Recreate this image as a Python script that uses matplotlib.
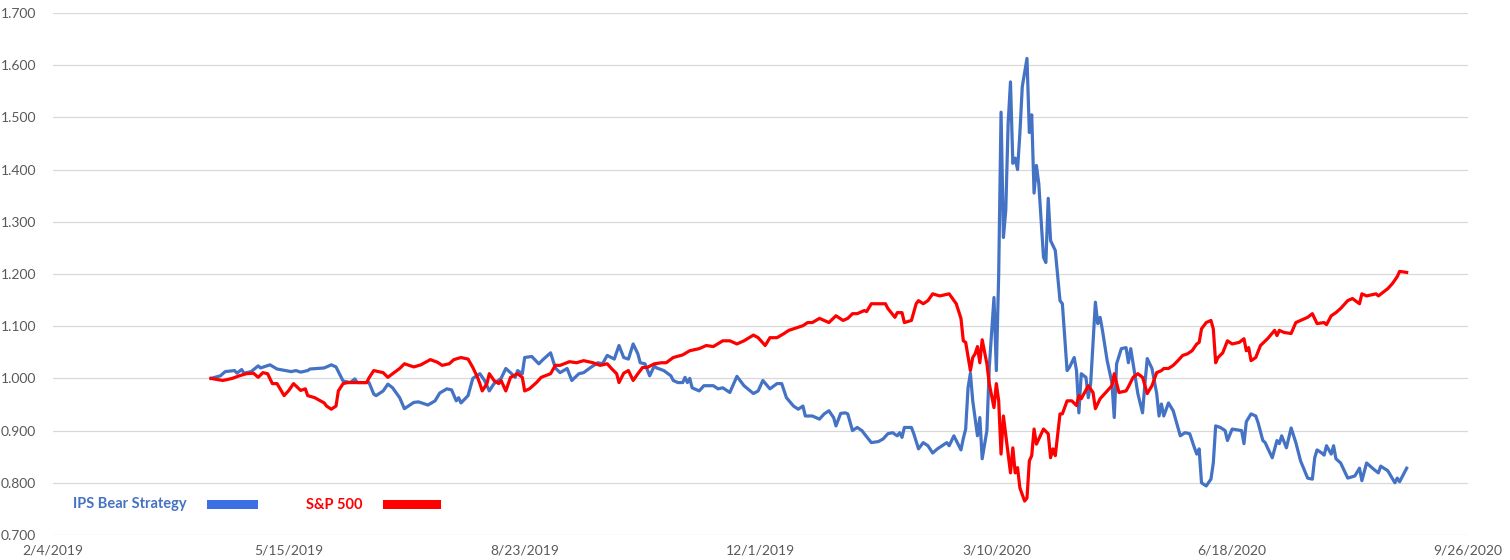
import pandas as pd
import matplotlib.pyplot as plt
import matplotlib.ticker as mticker
from matplotlib.patches import Rectangle

plt.rcParams['font.family'] = ['Lato', 'DejaVu Sans']

# IPS Bear Strategy (growth of 1.000)
ips_dates = [
    '2019-04-12', '2019-04-16', '2019-04-18', '2019-04-22', '2019-04-23', '2019-04-25', '2019-04-26', '2019-04-29',
    '2019-05-02', '2019-05-03', '2019-05-07', '2019-05-10', '2019-05-16', '2019-05-18', '2019-05-20', '2019-05-23',
    '2019-05-24', '2019-05-30',
    '2019-06-02', '2019-06-04', '2019-06-07', '2019-06-10', '2019-06-12', '2019-06-13', '2019-06-18', '2019-06-20',
    '2019-06-21', '2019-06-24', '2019-06-26', '2019-06-28',
    '2019-07-01', '2019-07-03', '2019-07-07', '2019-07-09', '2019-07-13', '2019-07-16', '2019-07-18', '2019-07-21',
    '2019-07-23', '2019-07-25', '2019-07-26', '2019-07-27', '2019-07-30',
    '2019-08-01', '2019-08-04', '2019-08-06', '2019-08-08', '2019-08-10', '2019-08-13', '2019-08-15', '2019-08-17',
    '2019-08-19', '2019-08-20', '2019-08-22', '2019-08-23', '2019-08-26', '2019-08-29', '2019-08-31',
    '2019-09-03', '2019-09-05', '2019-09-07', '2019-09-10', '2019-09-12', '2019-09-15', '2019-09-17', '2019-09-20',
    '2019-09-23', '2019-09-25', '2019-09-27', '2019-09-30',
    '2019-10-02', '2019-10-04', '2019-10-06', '2019-10-08', '2019-10-10', '2019-10-11', '2019-10-13', '2019-10-15',
    '2019-10-17', '2019-10-18', '2019-10-21', '2019-10-24', '2019-10-25', '2019-10-27', '2019-10-29', '2019-10-30',
    '2019-10-31',
    '2019-11-01', '2019-11-02', '2019-11-05', '2019-11-07', '2019-11-11', '2019-11-13', '2019-11-15', '2019-11-18',
    '2019-11-21', '2019-11-24', '2019-11-28', '2019-11-30',
    '2019-12-02', '2019-12-05', '2019-12-08', '2019-12-10', '2019-12-12', '2019-12-15', '2019-12-17', '2019-12-19',
    '2019-12-20', '2019-12-23', '2019-12-26', '2019-12-28', '2019-12-30',
    '2020-01-01', '2020-01-02', '2020-01-04', '2020-01-06', '2020-01-07', '2020-01-09', '2020-01-11', '2020-01-13',
    '2020-01-14', '2020-01-17', '2020-01-20', '2020-01-22', '2020-01-24', '2020-01-26', '2020-01-28', '2020-01-29',
    '2020-01-30', '2020-01-31',
    '2020-02-03', '2020-02-04', '2020-02-06', '2020-02-08', '2020-02-10', '2020-02-12', '2020-02-14', '2020-02-16',
    '2020-02-18', '2020-02-19', '2020-02-21', '2020-02-22', '2020-02-24', '2020-02-25', '2020-02-26', '2020-02-27',
    '2020-02-28', '2020-02-29',
    '2020-03-02', '2020-03-03', '2020-03-04', '2020-03-06', '2020-03-07', '2020-03-09', '2020-03-10', '2020-03-11',
    '2020-03-12', '2020-03-13', '2020-03-14', '2020-03-15', '2020-03-16', '2020-03-17', '2020-03-18', '2020-03-19',
    '2020-03-20', '2020-03-21', '2020-03-23', '2020-03-24', '2020-03-25', '2020-03-26', '2020-03-27', '2020-03-28',
    '2020-03-30', '2020-03-31',
    '2020-04-01', '2020-04-02', '2020-04-04', '2020-04-06', '2020-04-07', '2020-04-09', '2020-04-10', '2020-04-12',
    '2020-04-13', '2020-04-14', '2020-04-15', '2020-04-17', '2020-04-18', '2020-04-19', '2020-04-21', '2020-04-22',
    '2020-04-23', '2020-04-24', '2020-04-26', '2020-04-28', '2020-04-29', '2020-04-30',
    '2020-05-02', '2020-05-04', '2020-05-05', '2020-05-06', '2020-05-07', '2020-05-09', '2020-05-11', '2020-05-12',
    '2020-05-13', '2020-05-15', '2020-05-17', '2020-05-18', '2020-05-19', '2020-05-20', '2020-05-22', '2020-05-24',
    '2020-05-26', '2020-05-27', '2020-05-29', '2020-05-31',
    '2020-06-02', '2020-06-03', '2020-06-04', '2020-06-05', '2020-06-07', '2020-06-09', '2020-06-10', '2020-06-11',
    '2020-06-13', '2020-06-15', '2020-06-16', '2020-06-18', '2020-06-22', '2020-06-23', '2020-06-24', '2020-06-26',
    '2020-06-28', '2020-06-29',
    '2020-07-01', '2020-07-02', '2020-07-03', '2020-07-05', '2020-07-07', '2020-07-08', '2020-07-09', '2020-07-11',
    '2020-07-13', '2020-07-15', '2020-07-17', '2020-07-20', '2020-07-22', '2020-07-23', '2020-07-24', '2020-07-26',
    '2020-07-27', '2020-07-28', '2020-07-30', '2020-07-31',
    '2020-08-01', '2020-08-03', '2020-08-06', '2020-08-09', '2020-08-11', '2020-08-12', '2020-08-14', '2020-08-17',
    '2020-08-19', '2020-08-20', '2020-08-23', '2020-08-26', '2020-08-27', '2020-08-28', '2020-08-31',
]
ips_values = [
    1.000, 1.005, 1.013, 1.015, 1.010, 1.017, 1.010, 1.013,
    1.024, 1.020, 1.026, 1.018, 1.013, 1.015, 1.012, 1.015,
    1.018, 1.020,
    1.026, 1.022, 0.995, 0.992, 0.999, 0.992, 0.992, 0.970,
    0.967, 0.976, 0.989, 0.982,
    0.963, 0.942, 0.954, 0.955, 0.949, 0.957, 0.972, 0.980,
    0.978, 0.957, 0.963, 0.953, 0.967,
    1.000, 1.009, 0.996, 0.976, 0.990, 1.000, 1.019, 1.011,
    1.002, 1.015, 1.009, 1.040, 1.042, 1.028, 1.037,
    1.049, 1.020, 1.011, 1.019, 0.996, 1.009, 1.011, 1.021,
    1.030, 1.028, 1.044, 1.037,
    1.063, 1.040, 1.037, 1.066, 1.047, 1.030, 1.028, 1.005,
    1.024, 1.020, 1.015, 1.005, 0.996, 0.992, 0.992, 1.002,
    0.992,
    1.000, 0.982, 0.976, 0.986, 0.986, 0.980, 0.982, 0.973,
    1.004, 0.986, 0.971, 0.976,
    0.996, 0.980, 0.990, 0.990, 0.963, 0.947, 0.941, 0.947,
    0.928, 0.928, 0.922, 0.932, 0.938,
    0.925, 0.909, 0.933, 0.934, 0.932, 0.900, 0.906, 0.900,
    0.894, 0.877, 0.879, 0.884, 0.894, 0.896, 0.890, 0.896,
    0.887, 0.906,
    0.906, 0.894, 0.865, 0.877, 0.871, 0.857, 0.865, 0.871,
    0.877, 0.871, 0.890, 0.881, 0.863, 0.885, 0.903, 0.982,
    1.010, 0.957,
    0.890, 0.925, 0.846, 0.900, 1.021, 1.155, 1.015, 1.200,
    1.510, 1.270, 1.322, 1.488, 1.568, 1.412, 1.422, 1.400,
    1.471, 1.559, 1.613, 1.471, 1.505, 1.355, 1.408, 1.373,
    1.232, 1.222,
    1.345, 1.264, 1.245, 1.149, 1.143, 1.015, 1.021, 1.040,
    1.015, 0.934, 1.009, 1.002, 0.963, 0.990, 1.146, 1.105,
    1.117, 1.092, 1.034, 0.992, 0.925, 1.028,
    1.057, 1.059, 1.030, 1.057, 1.028, 0.971, 0.934, 0.990,
    1.038, 1.019, 0.971, 0.928, 0.951, 0.928, 0.953, 0.938,
    0.906, 0.890, 0.896, 0.894,
    0.867, 0.855, 0.865, 0.800, 0.794, 0.807, 0.838, 0.909,
    0.906, 0.900, 0.881, 0.903, 0.900, 0.875, 0.917, 0.932,
    0.928, 0.915,
    0.881, 0.877, 0.867, 0.848, 0.881, 0.875, 0.890, 0.867,
    0.905, 0.877, 0.842, 0.809, 0.807, 0.848, 0.863, 0.857,
    0.853, 0.871, 0.855, 0.871,
    0.846, 0.838, 0.809, 0.813, 0.828, 0.804, 0.838, 0.826,
    0.819, 0.832, 0.823, 0.800, 0.809, 0.802, 0.828,
]

# S&P 500 (growth of 1.000)
spx_dates = [
    '2019-04-12', '2019-04-17', '2019-04-21', '2019-04-24', '2019-04-27', '2019-04-30',
    '2019-05-02', '2019-05-04', '2019-05-06', '2019-05-08', '2019-05-10', '2019-05-13', '2019-05-15', '2019-05-17',
    '2019-05-20', '2019-05-22', '2019-05-23', '2019-05-26', '2019-05-30', '2019-05-31',
    '2019-06-02', '2019-06-04', '2019-06-05', '2019-06-07', '2019-06-09', '2019-06-13', '2019-06-17', '2019-06-18',
    '2019-06-20', '2019-06-24', '2019-06-26', '2019-06-28',
    '2019-07-01', '2019-07-03', '2019-07-07', '2019-07-10', '2019-07-14', '2019-07-17', '2019-07-19', '2019-07-22',
    '2019-07-24', '2019-07-27', '2019-07-30',
    '2019-08-01', '2019-08-03', '2019-08-04', '2019-08-05', '2019-08-07', '2019-08-08', '2019-08-10', '2019-08-12',
    '2019-08-13', '2019-08-15', '2019-08-17', '2019-08-20', '2019-08-22', '2019-08-23', '2019-08-25', '2019-08-28',
    '2019-08-30',
    '2019-09-03', '2019-09-05', '2019-09-07', '2019-09-11', '2019-09-14', '2019-09-17', '2019-09-21', '2019-09-24',
    '2019-09-27', '2019-09-29',
    '2019-10-01', '2019-10-02', '2019-10-04', '2019-10-06', '2019-10-08', '2019-10-10', '2019-10-12', '2019-10-14',
    '2019-10-17', '2019-10-20', '2019-10-22', '2019-10-25', '2019-10-29',
    '2019-11-01', '2019-11-05', '2019-11-08', '2019-11-11', '2019-11-15', '2019-11-18', '2019-11-21', '2019-11-24',
    '2019-11-28', '2019-11-30',
    '2019-12-03', '2019-12-05', '2019-12-08', '2019-12-11', '2019-12-13', '2019-12-15', '2019-12-19', '2019-12-21',
    '2019-12-23', '2019-12-26', '2019-12-30',
    '2020-01-02', '2020-01-05', '2020-01-07', '2020-01-09', '2020-01-11', '2020-01-14', '2020-01-15', '2020-01-17',
    '2020-01-20', '2020-01-23', '2020-01-24', '2020-01-27', '2020-01-28', '2020-01-30', '2020-01-31',
    '2020-02-03', '2020-02-05', '2020-02-06', '2020-02-08', '2020-02-10', '2020-02-12', '2020-02-15', '2020-02-19',
    '2020-02-22', '2020-02-24', '2020-02-25', '2020-02-26', '2020-02-28', '2020-02-29',
    '2020-03-01', '2020-03-02', '2020-03-03', '2020-03-04', '2020-03-06', '2020-03-07', '2020-03-09', '2020-03-10',
    '2020-03-11', '2020-03-12', '2020-03-13', '2020-03-15', '2020-03-16', '2020-03-17', '2020-03-18', '2020-03-19',
    '2020-03-20', '2020-03-22', '2020-03-23', '2020-03-24', '2020-03-25', '2020-03-26', '2020-03-27', '2020-03-30',
    '2020-04-01', '2020-04-02', '2020-04-03', '2020-04-04', '2020-04-06', '2020-04-07', '2020-04-09', '2020-04-11',
    '2020-04-13', '2020-04-14', '2020-04-15', '2020-04-18', '2020-04-20', '2020-04-21', '2020-04-23', '2020-04-26',
    '2020-04-28', '2020-04-29',
    '2020-05-01', '2020-05-04', '2020-05-05', '2020-05-07', '2020-05-09', '2020-05-11', '2020-05-13', '2020-05-15',
    '2020-05-17', '2020-05-19', '2020-05-20', '2020-05-22', '2020-05-24', '2020-05-26', '2020-05-28', '2020-05-30',
    '2020-06-01', '2020-06-03', '2020-06-04', '2020-06-05', '2020-06-07', '2020-06-09', '2020-06-10', '2020-06-11',
    '2020-06-12', '2020-06-14', '2020-06-16', '2020-06-18', '2020-06-21', '2020-06-23', '2020-06-24', '2020-06-25',
    '2020-06-26', '2020-06-28', '2020-06-30',
    '2020-07-03', '2020-07-06', '2020-07-07', '2020-07-08', '2020-07-10', '2020-07-13', '2020-07-15', '2020-07-17',
    '2020-07-20', '2020-07-22', '2020-07-24', '2020-07-27', '2020-07-28', '2020-07-30',
    '2020-08-01', '2020-08-03', '2020-08-06', '2020-08-08', '2020-08-11', '2020-08-12', '2020-08-14', '2020-08-18',
    '2020-08-19', '2020-08-23', '2020-08-25', '2020-08-27', '2020-08-28', '2020-08-31',
]
spx_values = [
    1.000, 0.996, 1.000, 1.005, 1.009, 1.010,
    1.002, 1.011, 1.009, 0.990, 0.990, 0.967, 0.977, 0.990,
    0.977, 0.980, 0.967, 0.963, 0.953, 0.947,
    0.941, 0.947, 0.976, 0.990, 0.992, 0.992, 0.992, 1.001,
    1.015, 1.011, 1.002, 1.009,
    1.019, 1.028, 1.022, 1.026, 1.036, 1.031, 1.025, 1.028,
    1.036, 1.040, 1.037,
    1.021, 1.002, 0.990, 0.976, 0.990, 1.009, 0.996, 0.990,
    0.996, 0.976, 1.002, 1.009, 1.002, 0.976, 0.980, 0.992,
    1.002,
    1.009, 1.025, 1.025, 1.032, 1.030, 1.034, 1.030, 1.025,
    1.028, 1.018,
    1.009, 0.992, 1.010, 1.015, 0.996, 1.009, 1.021, 1.021,
    1.028, 1.030, 1.030, 1.040, 1.045,
    1.053, 1.057, 1.063, 1.061, 1.072, 1.072, 1.066, 1.072,
    1.083, 1.078,
    1.063, 1.078, 1.078, 1.086, 1.092, 1.095, 1.101, 1.107,
    1.107, 1.115, 1.107,
    1.120, 1.111, 1.115, 1.124, 1.124, 1.130, 1.128, 1.143,
    1.143, 1.143, 1.134, 1.117, 1.126, 1.126, 1.107,
    1.111, 1.143, 1.149, 1.143, 1.149, 1.162, 1.158, 1.162,
    1.143, 1.115, 1.072, 1.069, 1.015, 1.040,
    1.047, 1.061, 1.030, 1.074, 1.028, 0.990, 0.944, 0.990,
    0.957, 0.855, 0.928, 0.855, 0.819, 0.867, 0.819, 0.829,
    0.790, 0.765, 0.771, 0.842, 0.852, 0.903, 0.874, 0.903,
    0.894, 0.848, 0.865, 0.852, 0.932, 0.932, 0.957, 0.957,
    0.948, 0.967, 0.961, 0.986, 0.973, 0.942, 0.961, 0.976,
    0.986, 1.009,
    0.973, 0.976, 0.984, 1.002, 1.009, 1.002, 0.971, 0.986,
    1.011, 1.015, 1.019, 1.019, 1.025, 1.034, 1.044, 1.047,
    1.053, 1.066, 1.069, 1.095, 1.107, 1.111, 1.095, 1.030,
    1.040, 1.049, 1.072, 1.066, 1.069, 1.076, 1.053, 1.059,
    1.034, 1.040, 1.063,
    1.076, 1.092, 1.082, 1.092, 1.088, 1.086, 1.107, 1.111,
    1.117, 1.124, 1.105, 1.107, 1.103, 1.120,
    1.126, 1.134, 1.149, 1.153, 1.143, 1.162, 1.158, 1.162,
    1.158, 1.172, 1.182, 1.195, 1.205, 1.203,
]

x_start, x_end = '2019-02-04', '2020-09-26'
y_ticks = [0.7, 0.8, 0.9, 1.0, 1.1, 1.2, 1.3, 1.4, 1.5, 1.6, 1.7]

blue = '#4472C4'
red = '#FF0000'
label_grey = '#595959'

fig = plt.figure(figsize=(15.1, 5.6), dpi=100)
ax = fig.add_axes([53 / 1510, 25 / 560, 1415 / 1510, 522 / 560])

ax.plot(pd.to_datetime(ips_dates), ips_values, color=blue, lw=2.3, solid_joinstyle='round')
ax.plot(pd.to_datetime(spx_dates), spx_values, color=red, lw=2.3, solid_joinstyle='round')

ax.set_xlim(pd.Timestamp(x_start), pd.Timestamp(x_end))
ax.set_ylim(0.7, 1.7)
ax.set_xticks(pd.date_range(x_start, x_end, freq='100D'))
ax.xaxis.set_major_formatter(mticker.FuncFormatter(
    lambda v, _: (lambda d: f'{d.month}/{d.day}/{d.year}')(pd.Timestamp(plt.matplotlib.dates.num2date(v)).tz_localize(None))))
ax.set_yticks(y_ticks)
ax.yaxis.set_major_formatter(mticker.FormatStrFormatter('%.3f'))

ax.grid(axis='y', color='#d9d9d9', lw=0.9)
ax.set_axisbelow(True)
for s in ax.spines.values():
    s.set_visible(False)
ax.tick_params(length=0, labelsize=10, labelcolor=label_grey)
ax.tick_params(axis='y', pad=12)
ax.tick_params(axis='x', pad=7)

# in-chart legend
fig.text(73 / 1510, 1 - 504 / 560, 'IPS Bear Strategy', color=blue, fontsize=10.5,
         fontweight='bold', va='center', ha='left')
fig.text(306 / 1510, 1 - 505 / 560, 'S&P 500', color=red, fontsize=10.5,
         fontweight='bold', va='center', ha='left')
fig.patches.append(Rectangle((207 / 1510, 1 - 509 / 560), 51 / 1510, 9 / 560,
                             transform=fig.transFigure, color='#3B6FE3', lw=0))
fig.patches.append(Rectangle((383 / 1510, 1 - 509 / 560), 58 / 1510, 9 / 560,
                             transform=fig.transFigure, color=red, lw=0))

fig.savefig('out.png', dpi=100)
